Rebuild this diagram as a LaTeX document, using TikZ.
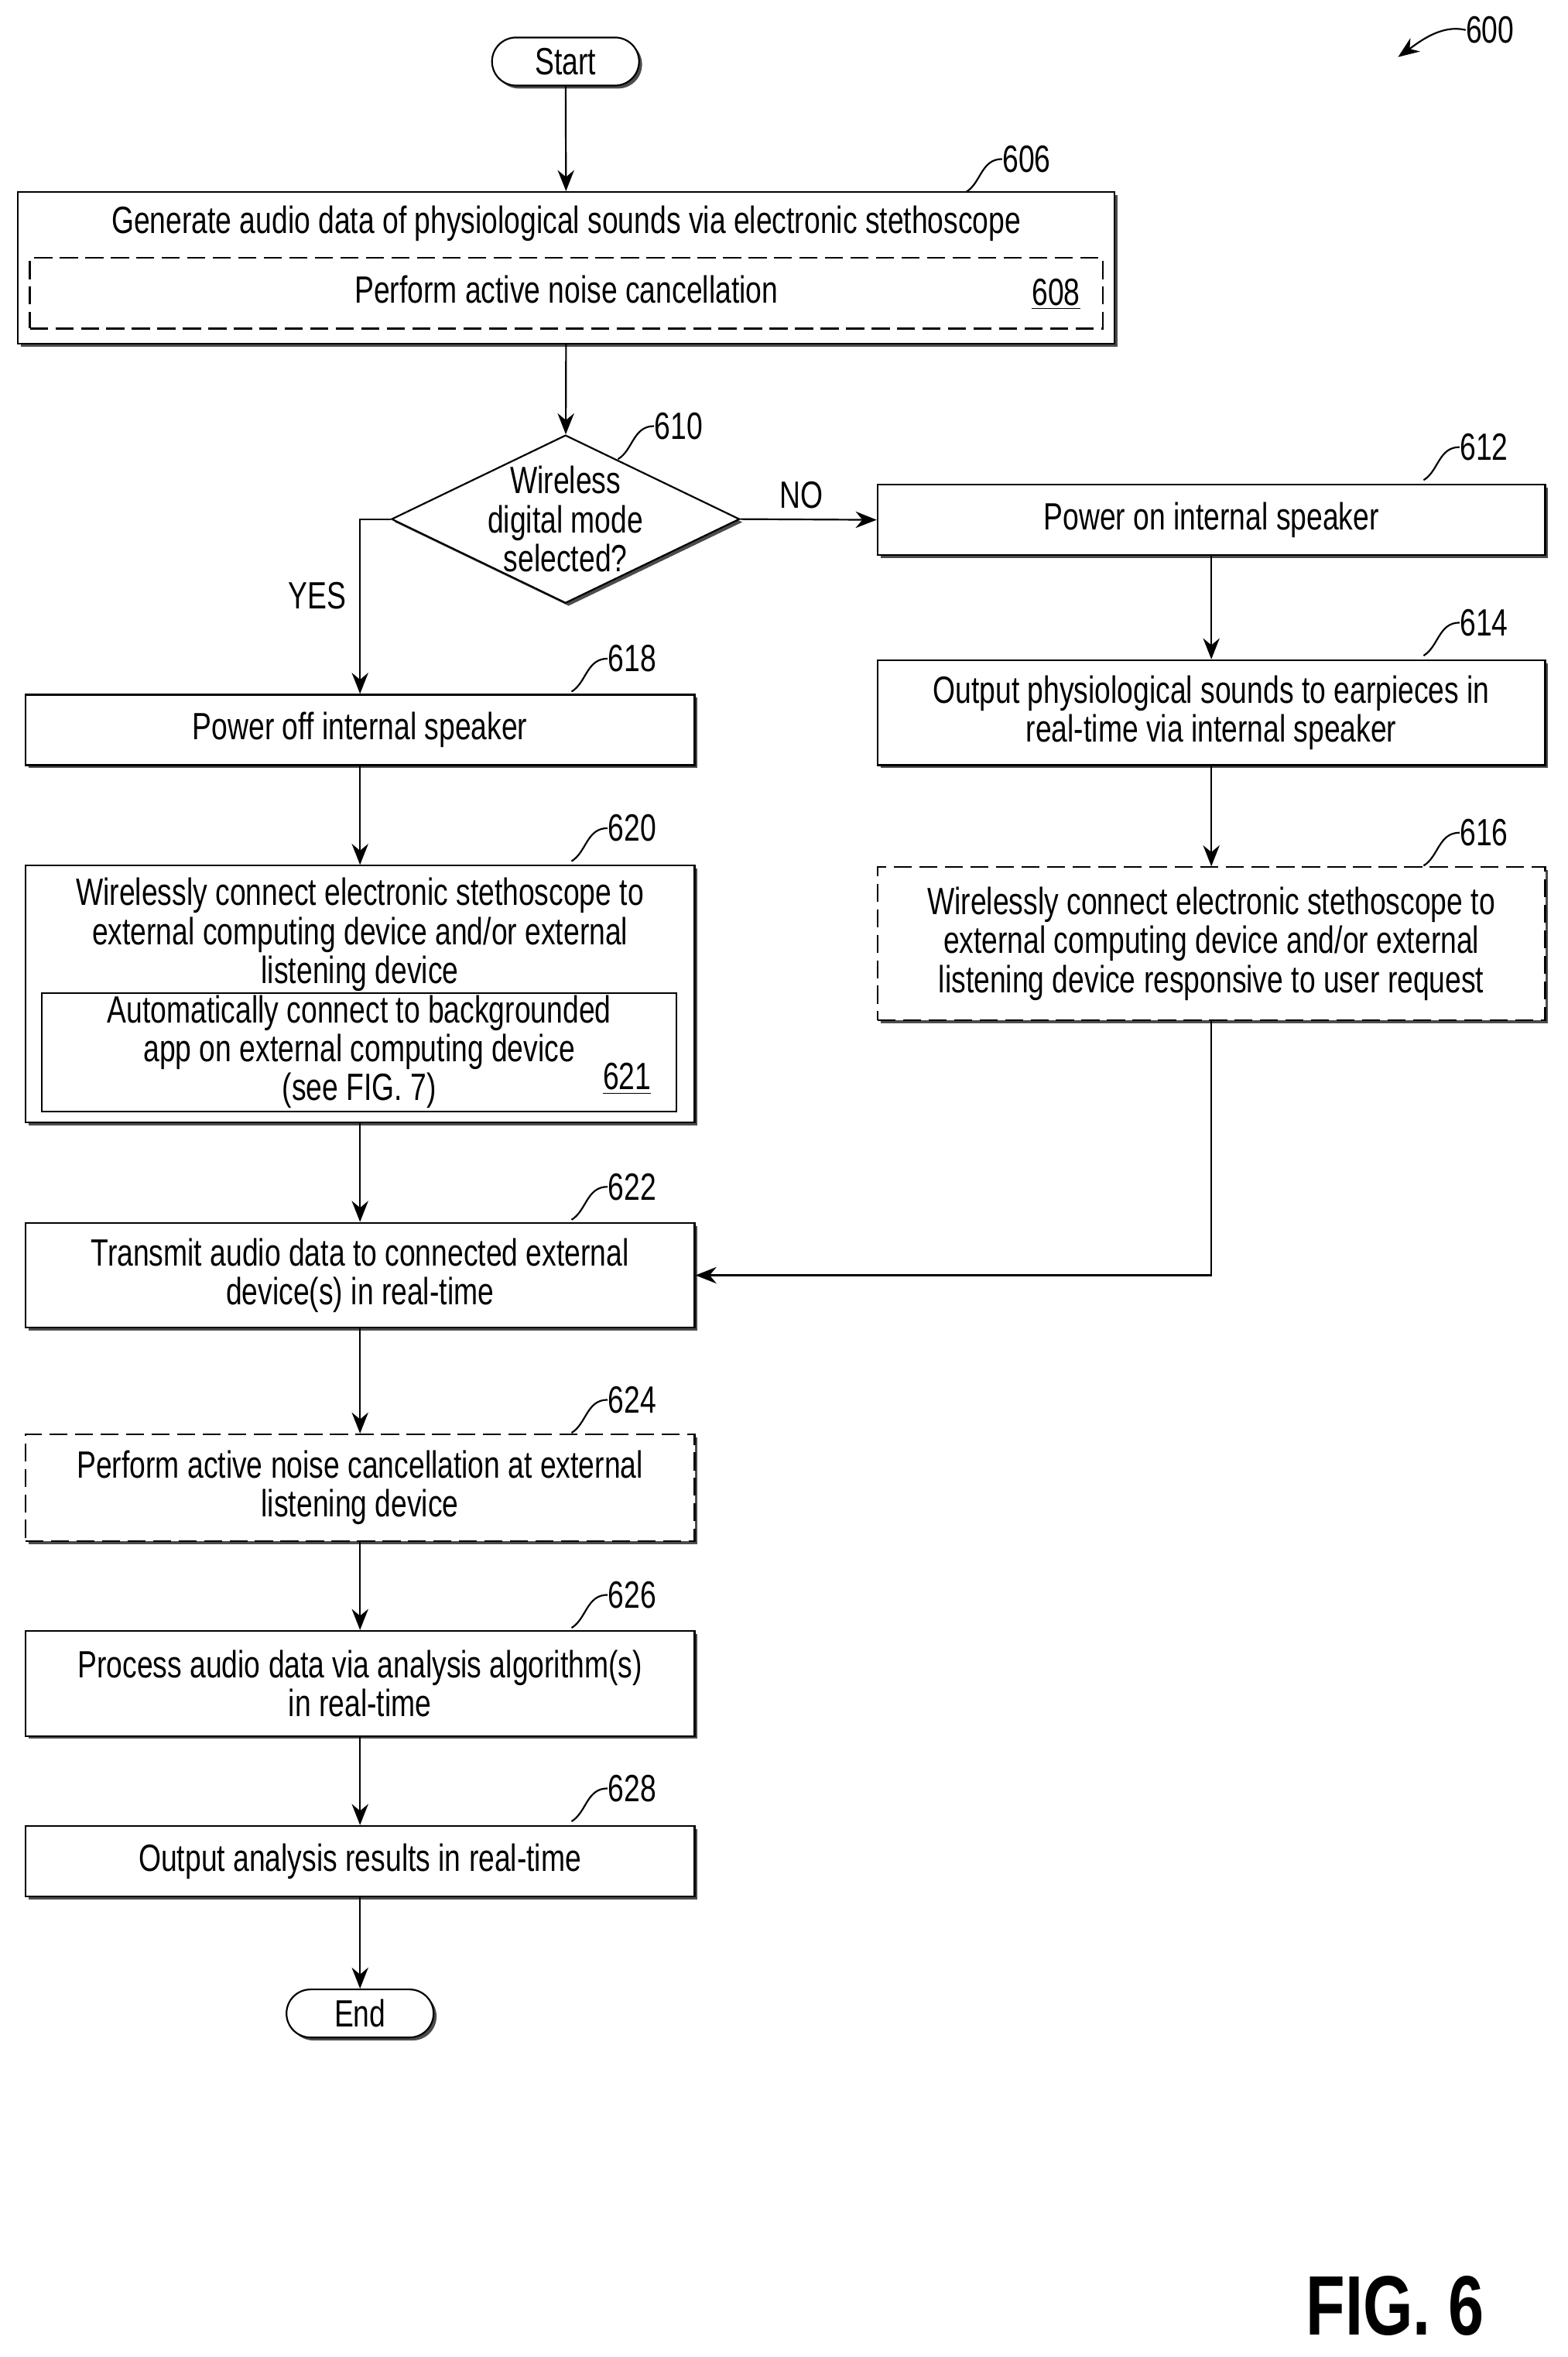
\documentclass[tikz,border=0pt]{standalone}
\usepackage{fontspec}
\setmainfont{Liberation Sans}[FakeStretch=0.76]
\usetikzlibrary{shapes.geometric,shadows,arrows.meta}
\newlength{\du}
\setlength{\du}{0.025cm}

\tikzset{
  box/.style={draw,thick,fill=white,rectangle,align=center,inner sep=0pt,
    drop shadow={shadow xshift=0.05cm,shadow yshift=-0.05cm,fill=black,opacity=0.7}},
  dbox/.style={box,dashed,dash pattern=on 0.3cm off 0.125cm},
  term/.style={draw,thick,rounded corners=0.4cm,minimum width=2.45cm,minimum height=0.8cm,fill=white,
    drop shadow={shadow xshift=0.05cm,shadow yshift=-0.05cm,fill=black,opacity=0.7}},
  flow/.style={thick,-{Stealth[length=0.35cm,width=0.275cm]}},
  lead/.style={thick}
}
\newcommand{\refnum}[3]{%
  \node[anchor=west,inner sep=0pt] (#3) at (#1,#2) {#3};
  \draw[lead] (#3.west) .. controls +(-0.35cm,0) and +(0.25cm,0.15cm) .. +(-0.6cm,-0.55cm);}

\begin{document}
\begin{tikzpicture}[x=0.025cm,y=-0.025cm,font=\fontsize{18}{18.5}\selectfont]
\useasboundingbox (0,0) rectangle (1045,1571);

% terminals
\node[term] (start) at (377,41) {Start};
\node[term] (end) at (240,1342) {End};

% 606 with 608 inside
\node[box,minimum width=18.275cm,minimum height=2.525cm] (b606) at (377.5,178.5) {};
\node (t606) at (377.5,149) {Generate audio data of physiological sounds via electronic stethoscope};
\node[draw,thick,dashed,dash pattern=on 0.3cm off 0.125cm,minimum width=17.875cm,minimum height=1.175cm] (b608) at (377.5,195.5) {};
\node at (377.5,193) {Perform active noise cancellation};
\node at (704,196) {\underline{608}};
\refnum{668}{106}{606}

% decision
\node[diamond,draw,thick,fill=white,minimum width=5.8cm,minimum height=2.8cm,inner sep=0pt,aspect=2.07,
  drop shadow={shadow xshift=0.05cm,shadow yshift=-0.05cm,fill=black,opacity=0.7}] (d610) at (377,346) {};
\node[align=center] at (377,346) {Wireless\\digital mode\\selected?};
\refnum{436}{284}{610}

% right branch
\node[box,minimum width=11.125cm,minimum height=1.175cm] (b612) at (807.5,346.5) {Power on internal speaker};
\refnum{973}{298}{612}
\node[box,minimum width=11.125cm,minimum height=1.75cm] (b614) at (807.5,475) {Output physiological sounds to earpieces in\\real-time via internal speaker};
\refnum{973}{415}{614}
\node[dbox,minimum width=11.125cm,minimum height=2.55cm] (b616) at (807.5,629) {Wirelessly connect electronic stethoscope to\\external computing device and/or external\\listening device responsive to user request};
\refnum{973}{555}{616}

% left branch
\node[box,minimum width=11.15cm,minimum height=1.175cm] (b618) at (240,486.5) {Power off internal speaker};
\refnum{405}{439}{618}
\node[box,minimum width=11.15cm,minimum height=4.275cm] (b620) at (240,662.5) {};
\node[align=center] at (240,623) {Wirelessly connect electronic stethoscope to\\external computing device and/or external\\listening device};
\node[draw,thick,fill=white,minimum width=10.575cm,minimum height=1.975cm] (b621) at (239.5,701.5) {};
\node[align=center] at (239.5,701) {Automatically connect to backgrounded\\app on external computing device\\(see FIG. 7)};
\node at (418,719) {\underline{621}};
\refnum{405}{552}{620}
\node[box,minimum width=11.15cm,minimum height=1.75cm] (b622) at (240,850) {Transmit audio data to connected external\\device(s) in real-time};
\refnum{405}{791}{622}
\node[dbox,minimum width=11.15cm,minimum height=1.775cm] (b624) at (240,991.5) {Perform active noise cancellation at external\\listening device};
\refnum{405}{933}{624}
\node[box,minimum width=11.15cm,minimum height=1.75cm] (b626) at (240,1122) {Process audio data via analysis algorithm(s)\\in real-time};
\refnum{405}{1063}{626}
\node[box,minimum width=11.15cm,minimum height=1.175cm] (b628) at (240,1240.5) {Output analysis results in real-time};
\refnum{405}{1192}{628}

% connectors
\draw[flow] (start) -- (b606);
\draw[flow] (b606) -- (d610);
\draw[flow] (d610.east) -- node[above,pos=0.45,yshift=0.05cm] {NO} (b612.west);
\draw[flow] (d610.west) -| node[left,pos=0.72,xshift=-0.1cm] {YES} (b618.north);
\draw[flow] (b612) -- (b614);
\draw[flow] (b614) -- (b616);
\draw[flow] (b618) -- (b620);
\draw[flow] (b620) -- (b622);
\draw[flow] (b616.south) |- (b622.east);
\draw[flow] (b622) -- (b624);
\draw[flow] (b624) -- (b626);
\draw[flow] (b626) -- (b628);
\draw[flow] (b628) -- (end);

% figure number
\node[anchor=west,inner sep=0pt] (n600) at (977,20) {600};
\draw[flow] (n600.west) .. controls +(-0.4cm,0.1cm) and +(0.35cm,0.25cm) .. (932,38);
\node[font=\fontsize{40}{40}\selectfont\bfseries] (fig) at (930,1537) {FIG. 6};
\end{tikzpicture}
\end{document}
